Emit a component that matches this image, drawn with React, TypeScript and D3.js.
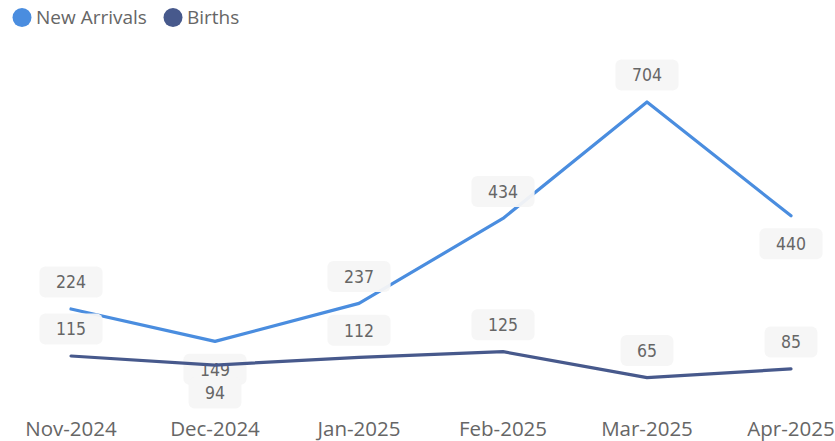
import React from "react";
import * as d3 from "d3";

const months = ["Nov-2024", "Dec-2024", "Jan-2025", "Feb-2025", "Mar-2025", "Apr-2025"];
const newArrivals = [224, 149, 237, 434, 704, 440];
const births = [115, 94, 112, 125, 65, 85];
const newArrivalsLabelPos = ["above", "below", "above", "above", "above", "below"];
const birthsLabelPos = ["above", "below", "above", "above", "above", "above"];

const W = 835;
const H = 441;
const NA_COLOR = "#4a8ddf";
const BIRTHS_COLOR = "#47598c";
const TEXT_COLOR = "#666666";
const LABEL_FONT = "'DejaVu Sans Condensed', 'DejaVu Sans', Roboto, sans-serif";
const UI_FONT = "'Open Sans', 'Noto Sans', sans-serif";

const x = d3.scalePoint<string>().domain(months).range([71, 791]);
const y = d3.scaleLinear().domain([0, 704]).range([405.6, 102]);

function Series({ values, color }: { values: number[]; color: string }) {
  const line = d3
    .line<number>()
    .x((_, i) => x(months[i]) as number)
    .y((d) => y(d));
  return (
    <path d={line(values) || ""} fill="none" stroke={color} strokeWidth={3.2} strokeLinejoin="round" strokeLinecap="round" />
  );
}

function Labels({ values, pos }: { values: number[]; pos: string[] }) {
  return (
    <g>
      {values.map((v, i) => {
        const cx = x(months[i]) as number;
        const cy = y(v) + (pos[i] === "above" ? -27 : 28);
        const txt = String(v);
        const w = txt.length * 10.4 + 32;
        const h = 31;
        return (
          <g key={i}>
            <rect x={cx - w / 2} y={cy - h / 2} width={w} height={h} rx={6} fill="#f6f6f6" fillOpacity={0.95} />
            <text
              x={cx}
              y={cy}
              dy="0.36em"
              textAnchor="middle"
              fontFamily={LABEL_FONT}
              fontSize={17.5}
              fill={TEXT_COLOR}
            >
              {txt}
            </text>
          </g>
        );
      })}
    </g>
  );
}

export default function App() {
  return (
    <svg
      width={W}
      height={H}
      style={{ position: "absolute", left: 0, top: 0, display: "block", background: "#ffffff" }}
    >
      {/* Legend */}
      <g fontFamily={UI_FONT} fontSize={19} fill={TEXT_COLOR}>
        <circle cx={22} cy={17.5} r={9.5} fill={NA_COLOR} />
        <text x={36} y={17.5} dy="0.35em">New Arrivals</text>
        <circle cx={173} cy={17.5} r={9.5} fill={BIRTHS_COLOR} />
        <text x={187} y={17.5} dy="0.35em">Births</text>
      </g>

      {/* X axis labels */}
      <g fontFamily={UI_FONT} fontSize={20.5} fill={TEXT_COLOR}>
        {months.map((m) => (
          <text key={m} x={x(m) as number} y={436} textAnchor="middle">
            {m}
          </text>
        ))}
      </g>

      <Series values={newArrivals} color={NA_COLOR} />
      <Labels values={newArrivals} pos={newArrivalsLabelPos} />
      <Series values={births} color={BIRTHS_COLOR} />
      <Labels values={births} pos={birthsLabelPos} />
    </svg>
  );
}
